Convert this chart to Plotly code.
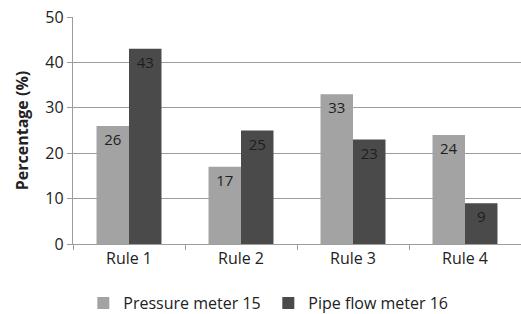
import plotly.graph_objects as go

categories = ["Rule 1", "Rule 2", "Rule 3", "Rule 4"]
pressure_meter_15 = [26, 17, 33, 24]
pipe_flow_meter_16 = [43, 25, 23, 9]

FONT = "Open Sans"
fig = go.Figure()
fig.add_trace(go.Bar(
    x=categories, y=pressure_meter_15, name="Pressure meter 15",
    marker=dict(color="#a3a3a3", line=dict(width=0)),
    text=pressure_meter_15, textposition="inside", insidetextanchor="end",
    textfont=dict(color="#1e1e1e", size=15, family=FONT),
))
fig.add_trace(go.Bar(
    x=categories, y=pipe_flow_meter_16, name="Pipe flow meter 16",
    marker=dict(color="#4a4a4a", line=dict(width=0)),
    text=pipe_flow_meter_16, textposition="inside", insidetextanchor="end",
    textfont=dict(color="#1e1e1e", size=15, family=FONT),
))
fig.update_layout(
    width=521, height=314,
    margin=dict(l=73, r=0, t=17, b=70, autoexpand=False),
    paper_bgcolor="white", plot_bgcolor="white",
    bargap=0.42, bargroupgap=0,
    font=dict(family=FONT, size=15, color="#222222"),
    showlegend=True,
    legend=dict(orientation="h", xref="container", x=0.515, xanchor="center",
                yref="container", y=0.035, yanchor="middle",
                font=dict(size=16, family=FONT), itemwidth=30, entrywidth=140,
                traceorder="normal"),
    uniformtext=dict(minsize=8, mode="show"),
)
fig.update_yaxes(
    range=[0, 50], dtick=10, showgrid=True, gridcolor="#9c9c9c", gridwidth=1.3,
    showline=True, linecolor="#9c9c9c", linewidth=1.3, ticks="outside", ticklen=5,
    tickcolor="#9c9c9c", tickfont=dict(size=16, family=FONT),
    title=dict(text="<b>Percentage (%)</b>", font=dict(size=16, family=FONT), standoff=12),
    zeroline=False, automargin=False,
)
fig.update_xaxes(
    showline=True, linecolor="#9c9c9c", linewidth=1.3, ticks="outside", ticklen=5,
    tickcolor="#9c9c9c", tickson="boundaries", tickfont=dict(size=16, family=FONT),
    automargin=False,
)
fig.write_html("out.html", config={"displayModeBar": False},
               post_script="document.body.style.margin='0px';")
